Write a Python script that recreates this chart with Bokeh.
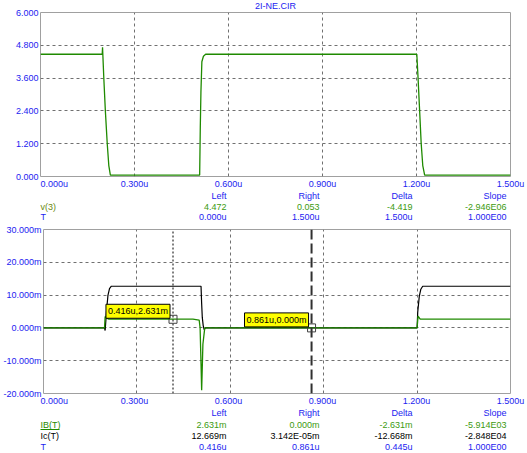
from bokeh.plotting import figure
from bokeh.layouts import column
from bokeh.models import FixedTicker, Label, ColumnDataSource, Range1d
from bokeh.core.properties import value
from bokeh.embed import file_html
from bokeh.resources import INLINE

# ---- data ----
title_text = "2I-NE.CIR"

# top plot: v(3)
v3_t = [0.0, 0.197, 0.198, 0.202, 0.207, 0.213, 0.218, 0.223, 0.508, 0.510, 0.512, 0.515, 0.520, 0.527,
        1.201, 1.205, 1.210, 1.215, 1.220, 1.226, 1.5]
v3_v = [4.472, 4.472, 4.73, 3.61, 2.40, 1.20, 0.40, 0.053, 0.053, 1.83, 3.08, 4.20, 4.40, 4.472,
        4.472, 3.60, 2.40, 1.20, 0.40, 0.053, 0.053]

# bottom plot: IB(T) and Ic(T) in mA
ib_t = [0.0, 0.196, 0.198, 0.203, 0.210, 0.480, 0.500, 0.503, 0.506, 0.508, 0.512, 0.518,
        1.200, 1.203, 1.210, 1.5]
ib_v = [0.0, 0.0, 3.5, 3.0, 2.70, 2.65, 2.40, 0.0, -11.0, -19.0, -5.0, 0.0,
        0.0, 3.6, 2.65, 2.65]
ic_t = [0.0, 0.196, 0.198, 0.203, 0.207, 0.212, 0.218, 0.506, 0.508, 0.510, 0.513, 0.516, 0.520,
        1.200, 1.202, 1.207, 1.212, 1.218, 1.5]
ic_v = [0.0, 0.0, -0.8, 5.8, 9.9, 12.0, 12.7, 12.7, 7.4, 3.2, 0.7, -0.5, 0.0,
        0.0, 4.8, 9.6, 11.8, 12.7, 12.7]

x_ticks = [0.0, 0.3, 0.6, 0.9, 1.2, 1.5]
x_tick_labels = ["0.000u", "0.300u", "0.600u", "0.900u", "1.200u", "1.500u"]
top_y_ticks = [0.0, 1.2, 2.4, 3.6, 4.8, 6.0]
top_y_labels = ["0.000", "1.200", "2.400", "3.600", "4.800", "6.000"]
bot_y_ticks = [-20, -10, 0, 10, 20, 30]
bot_y_labels = ["-20.000m", "-10.000m", "0.000m", "10.000m", "20.000m", "30.000m"]

cursor_left = 0.416
cursor_right = 0.861
cursor_left_val = 2.631
cursor_right_val = 0.0
cursor_left_text = "0.416u,2.631m"
cursor_right_text = "0.861u,0.000m"

headers = ["Left", "Right", "Delta", "Slope"]
top_rows = [("v(3)", ["4.472", "0.053", "-4.419", "-2.946E06"]),
            ("T", ["0.000u", "1.500u", "1.500u", "1.000E00"])]
bot_rows = [("IB(T)", ["2.631m", "0.000m", "-2.631m", "-5.914E03"]),
            ("Ic(T)", ["12.669m", "3.142E-05m", "-12.668m", "-2.848E04"]),
            ("T", ["0.416u", "0.861u", "0.445u", "1.000E00"])]

# ---- styles / layout ----
FONT = "Liberation Sans"
FS = "9px"
BLUE = "#1c1cf0"
GREEN = "#1f8a00"
GREEN_TXT = "#3c9a10"
OLIVE = "#6a8a10"
W = 527
FL, FR, FH = 40, 17, 164
FW = W - FL - FR
K = 1.5 / FW                        # data units per pixel along x
BB = 8                              # bottom border of plot figures (overlapped by text panels)
col_px = [226, 319, 412, 506]       # right edges of the table columns (page px)
col_x = [(c - FL) * K for c in col_px]
name_x = 0.0


def plot_fig(top, yr, yticks, ylabels):
    p = figure(width=W, height=top + FH + BB, x_range=Range1d(0, 1.5), y_range=Range1d(*yr),
               output_backend="svg", toolbar_location=None,
               min_border_left=FL, min_border_right=FR,
               min_border_top=top, min_border_bottom=BB)
    p.frame_align = False
    p.background_fill_color = "white"
    p.border_fill_color = "white"
    p.outline_line_color = "#a0a0a0"
    p.xaxis.visible = False
    p.yaxis.ticker = FixedTicker(ticks=yticks)
    p.yaxis.major_label_overrides = {t: l for t, l in zip(yticks, ylabels)}
    p.yaxis.axis_line_color = None
    p.yaxis.major_tick_line_color = None
    p.yaxis.minor_tick_line_color = None
    p.yaxis.major_tick_out = 0
    p.yaxis.major_tick_in = 0
    p.yaxis.major_label_standoff = 2
    p.yaxis.major_label_text_font = FONT
    p.yaxis.major_label_text_font_size = FS
    p.yaxis.major_label_text_color = BLUE
    p.xgrid.ticker = FixedTicker(ticks=x_ticks[1:-1])
    p.ygrid.ticker = FixedTicker(ticks=yticks[1:-1])
    for g in (p.xgrid, p.ygrid):
        g.grid_line_color = "#707070"
        g.grid_line_dash = "3 3"
        g.grid_line_width = 1
    return p


def text_fig(h):
    p = figure(width=W, height=h, x_range=Range1d(-FL * K, 1.5 + FR * K), y_range=Range1d(h, 0),
               output_backend="svg", toolbar_location=None,
               x_axis_location=None, y_axis_location=None,
               min_border_left=0, min_border_right=0, min_border_top=0, min_border_bottom=0,
               margin=(-BB, 0, 0, 0))
    p.frame_align = False
    p.grid.visible = False
    p.outline_line_color = None
    p.background_fill_color = None
    p.border_fill_color = None
    return p


def put(p, xs, ys, texts, color, align):
    p.text(x=xs, y=ys, text=texts, text_align=align, text_baseline="middle",
           text_font=value(FONT), text_font_size=FS, text_color=color)


def table(p, y_ticks_row, y_head, rows, row_ys, colors):
    aligns = ["left"] + ["center"] * (len(x_ticks) - 1)
    for t, lab, a in zip(x_ticks, x_tick_labels, aligns):
        put(p, [t], [y_ticks_row], [lab], BLUE, a)
    put(p, col_x, [y_head] * 4, headers, BLUE, "right")
    for (name, vals), ry, (nc, vc) in zip(rows, row_ys, colors):
        put(p, [name_x], [ry], [name], nc, "left")
        put(p, col_x, [ry] * 4, vals, vc, "right")


# ---- top plot ----
T1 = 12
p1 = plot_fig(T1, (0, 6), top_y_ticks, top_y_labels)
p1.title.text = title_text
p1.title.align = "center"
p1.title.vertical_align = "top"
p1.title.text_font = FONT
p1.title.text_font_size = FS
p1.title.text_font_style = "normal"
p1.title.text_color = BLUE
p1.title.standoff = 0
p1.title.offset = 0
p1.line(v3_t, v3_v, line_color=GREEN, line_width=1.3)

y0_t1 = T1 + FH                      # page y where the text panel starts
t1 = text_fig(223 - y0_t1)
table(t1, 183 - y0_t1, 195 - y0_t1, top_rows, [206 - y0_t1, 216 - y0_t1],
      [(OLIVE, GREEN_TXT), (BLUE, BLUE)])

# ---- bottom plot ----
T2 = 6
p2 = plot_fig(T2, (-20, 30), bot_y_ticks, bot_y_labels)
p2.line(ic_t, ic_v, line_color="black", line_width=1.2)
p2.line(ib_t, ib_v, line_color=GREEN, line_width=1.3)
p2.line([cursor_left, cursor_left], [-20, 30], line_color="black", line_width=1, line_dash="2 2")
p2.line([cursor_right, cursor_right], [-20, 30], line_color="#303030", line_width=2, line_dash="10 4")
src = ColumnDataSource(dict(x=[cursor_left, cursor_right], y=[cursor_left_val, cursor_right_val]))
p2.scatter("x", "y", source=src, marker="square", size=8, fill_color=None,
           line_color="#404040", line_width=1)
for cx, cy, txt in [(cursor_left, cursor_left_val, cursor_left_text),
                    (cursor_right, cursor_right_val, cursor_right_text)]:
    p2.add_layout(Label(x=cx, y=cy, x_offset=-3, y_offset=1, text=txt,
                        text_align="right", text_baseline="bottom",
                        text_font=FONT, text_font_size=FS, text_color="black",
                        background_fill_color="#ffff00", border_line_color="black",
                        border_line_width=1, padding=2))

y0_t2 = 223 + T2 + FH
t2 = text_fig(453 - y0_t2)
table(t2, 400 - y0_t2, 412 - y0_t2, bot_rows, [424 - y0_t2, 435 - y0_t2, 446 - y0_t2],
      [(GREEN, GREEN_TXT), ("black", "black"), (BLUE, BLUE)])
# underline of the selected curve name
ul = 429 - y0_t2
t2.segment(x0=[name_x], y0=[ul], x1=[name_x + 19 * K], y1=[ul], line_color=GREEN, line_width=1)

layout = column(p1, t1, p2, t2, spacing=0)
open("out.html", "w").write(file_html(layout, INLINE))
